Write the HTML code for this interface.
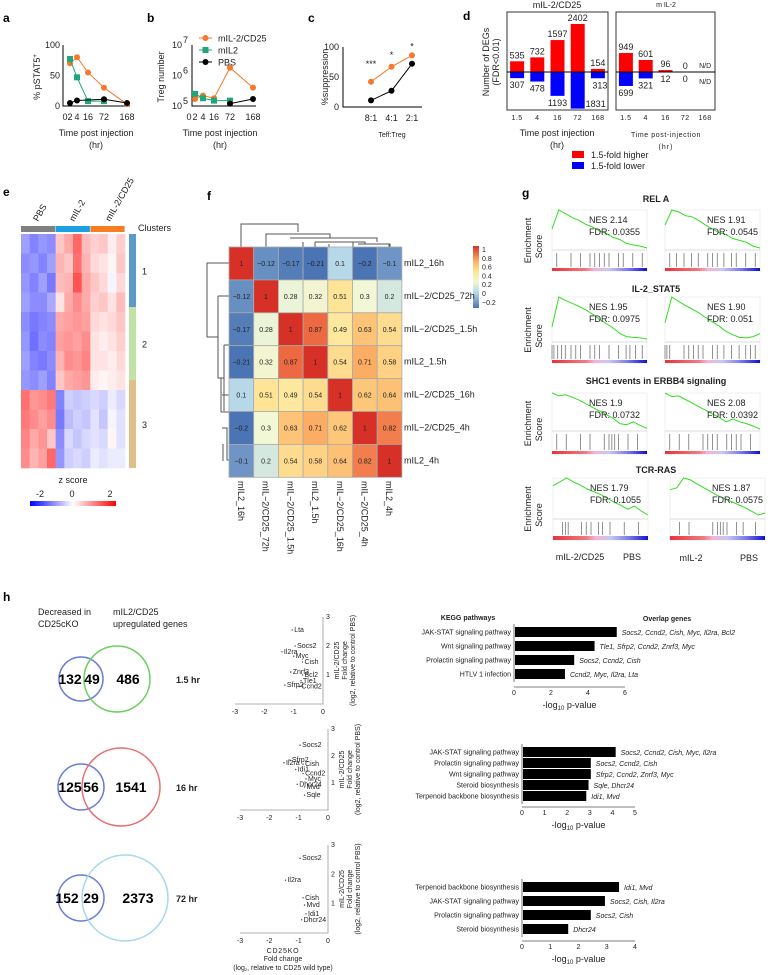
<!DOCTYPE html>
<html><head><meta charset="utf-8">
<style>
html,body{margin:0;padding:0;background:#fff;}
svg{display:block;font-family:"Liberation Sans",sans-serif;}
.t{font-size:9px;fill:#222}
.s{font-size:7px;fill:#222}
.pl{font-size:12px;font-weight:bold;fill:#000}
</style></head>
<body>
<svg id="fig" width="771" height="975" viewBox="0 0 771 975" xmlns="http://www.w3.org/2000/svg">
<!-- panel letters -->
<text class="pl" x="3" y="22">a</text>
<text class="pl" x="147" y="22">b</text>
<text class="pl" x="308" y="22">c</text>
<text class="pl" x="463" y="20">d</text>
<text class="pl" x="3" y="196">e</text>
<text class="pl" x="207" y="200">f</text>
<text class="pl" x="522" y="197">g</text>
<text class="pl" x="3" y="601">h</text>

<!-- panel a static -->
<g>
<text class="t" transform="translate(40,77) rotate(-90)" text-anchor="middle">% pSTAT5<tspan dy="-3" font-size="6">+</tspan></text>
<text class="t" x="96" y="136" text-anchor="middle">Time post injection</text>
<text class="t" x="96" y="148" text-anchor="middle">(hr)</text>
</g>
<g>
<text class="t" transform="translate(164,77) rotate(-90)" text-anchor="middle">Treg number</text>
<text class="t" x="220" y="136" text-anchor="middle">Time post injection</text>
<text class="t" x="220" y="148" text-anchor="middle">(hr)</text>
</g>
<g>
<text class="t" transform="translate(328,77) rotate(-90)" text-anchor="middle">%suppression</text>
<text class="s" x="392" y="137" text-anchor="middle">Teff:Treg</text>
</g>
<g>
<text class="t" transform="translate(489,62) rotate(-90)" text-anchor="middle">Number of DEGs</text>
<text class="t" transform="translate(499,62) rotate(-90)" text-anchor="middle">(FDR&lt;0.01)</text>
<text class="t" x="557" y="8" text-anchor="middle">mIL-2/CD25</text>
<text class="s" x="666" y="7" text-anchor="middle" font-size="5">m IL-2</text>
<text class="t" x="557" y="136" text-anchor="middle">Time post  injection</text>
<text class="t" x="557" y="148" text-anchor="middle">(hr)</text>
<text class="s" x="666" y="137" text-anchor="middle" letter-spacing="0.6">Time post-injection</text>
<text class="s" x="666" y="149" text-anchor="middle" letter-spacing="1">(hr)</text>
<rect x="572" y="151" width="12" height="7" fill="#f00"/>
<text class="t" x="591" y="158">1.5-fold higher</text>
<rect x="572" y="162" width="12" height="7" fill="#00f"/>
<text class="t" x="591" y="169">1.5-fold lower</text>
</g>
<!-- panel e static -->
<g>
<text class="t" transform="translate(38,222) rotate(-60)">PBS</text>
<text class="t" transform="translate(74,222) rotate(-60)">mIL-2</text>
<text class="t" transform="translate(110,222) rotate(-60)">mIL-2/CD25</text>
<text class="t" x="138" y="231">Clusters</text>
<text class="t" x="73" y="483" text-anchor="middle">z score</text>
<defs><linearGradient id="zg" x1="0" x2="1"><stop offset="0" stop-color="#0000ff"/><stop offset="0.5" stop-color="#ffffff"/><stop offset="1" stop-color="#ff0000"/></linearGradient>
<linearGradient id="fg" x1="0" y1="1" x2="0" y2="0"><stop offset="0" stop-color="#4a74b4"/><stop offset="0.25" stop-color="#b7d8e8"/><stop offset="0.42" stop-color="#f2f7d6"/><stop offset="0.58" stop-color="#fee79a"/><stop offset="0.75" stop-color="#fdb165"/><stop offset="1" stop-color="#d73027"/></linearGradient>
<linearGradient id="gg" x1="0" x2="1"><stop offset="0" stop-color="#e8323c"/><stop offset="0.35" stop-color="#f07a80"/><stop offset="0.45" stop-color="#f3b3d8"/><stop offset="0.6" stop-color="#c8c8f0"/><stop offset="0.8" stop-color="#7a7ae8"/><stop offset="1" stop-color="#1010d0"/></linearGradient></defs>
<rect x="30" y="501" width="86" height="5" fill="url(#zg)"/>
<text class="t" x="40" y="497" text-anchor="middle">-2</text>
<text class="t" x="72" y="497" text-anchor="middle">0</text>
<text class="t" x="110" y="497" text-anchor="middle">2</text>
</g>
<!-- panel f static -->
<g stroke="#555" stroke-width="1" fill="none">
<path d="M241 247V224H298V232"/>
<path d="M266 247V234H330V238"/>
<path d="M290 238H377V242M303 242V247M315 242H365V244M358 244H390V247M329 244V247M389 247V244M315 242V247M353 242V247"/>
<path d="M229 263H207V337H218M218 296H229M218 296V378H224M224 345H229M224 345V411M221 378V412M221 412H229"/>
<path d="M222 428H227V460H229M223 444V461M222 395H229"/>
<rect x="473" y="246" width="6" height="62" fill="url(#fg)" stroke="none"/>
</g>
<!-- panel g static -->
<g>
<text class="t" x="656" y="202" text-anchor="middle" font-weight="bold">REL A</text>
<text class="t" x="656" y="292" text-anchor="middle" font-weight="bold">IL-2_STAT5</text>
<text class="t" x="656" y="384" text-anchor="middle" font-weight="bold">SHC1 events in ERBB4 signaling</text>
<text class="t" x="656" y="473" text-anchor="middle" font-weight="bold">TCR-RAS</text>
<text class="t" x="580" y="560" text-anchor="middle">mIL-2/CD25</text>
<text class="t" x="632" y="560" text-anchor="middle">PBS</text>
<text class="t" x="691" y="561" text-anchor="middle">mIL-2</text>
<text class="t" x="749" y="561" text-anchor="middle">PBS</text>
</g>
<!-- panel h static -->
<g>
<text class="t" x="38" y="615">Decreased in</text>
<text class="t" x="38" y="627">CD25cKO</text>
<text class="t" x="113" y="615">mIL2/CD25</text>
<text class="t" x="113" y="627">upregulated genes</text>
<text class="s" x="468" y="620" text-anchor="middle" font-weight="bold">KEGG pathways</text>
<text class="s" x="667" y="621" text-anchor="middle" font-weight="bold">Overlap genes</text>
<text class="s" x="283" y="953" text-anchor="middle" font-size="5" letter-spacing="0.8">CD25KO</text>
<text class="s" x="283" y="961" text-anchor="middle" font-size="5">Fold change</text>
<text class="s" x="283" y="970" text-anchor="middle" font-size="5.5">(log<tspan font-size="4" dy="1">2</tspan><tspan dy="-1">, relative to CD25 wild type)</tspan></text>
</g>
<g id="dyn"></g>
</svg>
<script>
// ---------- data ----------
var aTimes=[2,4,16,72,168];
var aIL2CD25=[70,80,55,30,3];
var aIL2=[77,47,8,8];
var aPBS=[5,9,11,5];
var aPBSTimes=[2,4,72,168];
var timeTicks=[0,2,4,16,72,168];
var bIL2CD25=[1.7e5,2.2e5,1.8e5,1.8e6,4e5];
var bIL2=[2.5e5,1.8e5,1.5e5,1.5e5];
var bPBS=[1.2e5,1.7e5];
var bPBSTimes=[72,168];
var cRatios=["8:1","4:1","2:1"];
var cIL2CD25=[42,67,86];
var cPBS=[11,27,72];
var cStars=["***","*","*"];
var dTimes=["1.5","4","16","72","168"];
var dUpCD25=[535,732,1597,2402,154];
var dDownCD25=[307,478,1193,1831,313];
var dUpIL2=[949,601,96,0];
var dDownIL2=[699,321,12,0];
var eRows=[
[-1.0,-1.3,-1.1,-1.2, 0.6,0.9,1.6,0.7, 0.5,0.6,0.2,0.5],
[-1.2,-1.1,-1.3,-1.0, 0.8,0.6,1.5,0.8, 0.4,0.3,0.1,0.6],
[-1.1,-1.3,-1.0,-1.4, 0.7,0.8,1.8,0.9, 0.6,0.4,-0.1,0.4],
[-1.0,-1.2,-1.2,-0.9, 0.3,0.9,1.2,0.9, 0.5,0.6,0.3,0.7],
[-1.2,-1.4,-1.3,-1.2, 0.9,1.0,1.1,1.0, 0.4,0.3,0.4,0.6],
[-1.1,-1.5,-1.2,-1.3, 1.0,1.1,1.0,1.2, 0.3,0.2,0.3,0.5],
[-1.0,-1.3,-1.4,-1.2, 0.8,1.2,1.1,1.3, 0.3,0.3,0.2,0.4],
[-1.1,-1.2,-1.0,-1.3, 0.6,0.9,1.0,1.1, 0.2,0.1,0.2,0.3],
[ 1.5, 1.1, 1.2, 1.4,-1.3,-0.5,-0.6,-0.5,-0.4,-0.5,-0.2,-0.4],
[ 1.4, 1.2, 1.0, 1.2,-1.4,-0.7,-0.5,-0.6,-0.3,-0.6,-0.1,-0.3],
[ 1.3, 0.9, 1.1, 0.6,-1.2,-0.4,-0.6,-0.4,-0.3,-0.4, 0.1,-0.3],
[ 1.2, 0.8, 1.0, 1.6,-1.1,-0.5,-0.4,-0.5,-0.2,-0.3,-0.2,-0.2]];
var eClusters=["1","2","3"];
var fLabels=["mIL2_16h","mIL−2/CD25_72h","mIL−2/CD25_1.5h","mIL2_1.5h","mIL−2/CD25_16h","mIL−2/CD25_4h","mIL2_4h"];
var fCorr=[
[1,-0.12,-0.17,-0.21,0.1,-0.2,-0.1],
[-0.12,1,0.28,0.32,0.51,0.3,0.2],
[-0.17,0.28,1,0.87,0.49,0.63,0.54],
[-0.21,0.32,0.87,1,0.54,0.71,0.58],
[0.1,0.51,0.49,0.54,1,0.62,0.64],
[-0.2,0.3,0.63,0.71,0.62,1,0.82],
[-0.1,0.2,0.54,0.58,0.64,0.82,1]];
var fTicks=["1","0.8","0.6","0.4","0.2","0","−0.2"];
var gNES=["NES 2.14","NES 1.91","NES 1.95","NES 1.90","NES 1.9","NES 2.08","NES 1.79","NES 1.87"];
var gFDR=["FDR: 0.0355","FDR: 0.0545","FDR: 0.0975","FDR: 0.051","FDR: 0.0732","FDR: 0.0392","FDR: 0.1055","FDR: 0.0575"];
var gCurves=[
[0.5,1.0,0.9,0.8,0.72,0.62,0.55,0.45,0.38,0.28,0.22,0.12,0.08,0.05,0.0],
[0.6,1.0,0.95,0.85,0.82,0.72,0.6,0.5,0.4,0.35,0.25,0.2,0.15,0.05,0.0],
[0.3,1.0,0.92,0.85,0.78,0.7,0.6,0.48,0.38,0.28,0.15,0.08,0.06,0.05,0.02],
[0.4,1.0,0.9,0.8,0.72,0.63,0.52,0.42,0.32,0.2,0.12,0.06,0.05,0.08,0.15],
[1.0,0.92,0.95,0.88,0.8,0.7,0.6,0.5,0.4,0.3,0.15,0.12,0.2,0.1,0.02],
[1.0,0.9,0.92,0.82,0.72,0.62,0.52,0.42,0.32,0.2,0.28,0.2,0.15,0.08,0.0],
[0.8,0.9,1.0,0.9,0.82,0.72,0.65,0.58,0.48,0.38,0.3,0.2,0.28,0.15,0.05],
[0.7,0.75,1.0,0.95,0.85,0.75,0.65,0.55,0.48,0.4,0.32,0.25,0.15,0.05,0.1]];
var gHits=[
[0.05,0.2,0.3,0.4,0.45,0.5,0.55,0.6,0.7,0.75,0.85,0.95],
[0.05,0.12,0.2,0.28,0.35,0.45,0.5,0.55,0.62,0.7,0.75,0.85,0.95],
[0.0,0.02,0.06,0.1,0.14,0.2,0.25,0.3,0.4,0.45,0.5,0.6,0.7,0.78,0.82,0.88,0.95],
[0.0,0.02,0.05,0.2,0.25,0.3,0.35,0.4,0.5,0.55,0.62,0.7,0.78,0.85,0.9,0.95],
[0.05,0.15,0.3,0.4,0.55,0.6,0.63,0.66,0.7,0.8,0.9],
[0.05,0.15,0.25,0.4,0.45,0.5,0.55,0.65,0.7,0.75,0.8,0.9],
[0.1,0.13,0.16,0.3,0.35,0.4,0.48,0.52,0.6,0.75,0.9],
[0.1,0.2,0.45,0.5,0.53,0.56,0.6,0.7,0.77,0.9]];
var hOverlap=[49,56,29];
var hLeftOnly=[132,125,152];
var hRightOnly=[486,1541,2373];
var hTimes=["1.5 hr","16 hr","72 hr"];
var sc1Genes=["Lta","Socs2","Il2ra","Myc","Cish","Znrf3","Bcl2","Tle1","Sfrp2","Ccnd2"];
var sc1X=[-1.05,-0.95,-1.4,-1.0,-0.7,-1.1,-0.7,-0.75,-1.3,-0.8];
var sc1Y=[2.55,2.0,1.8,1.65,1.45,1.1,1.0,0.8,0.65,0.6];
var sc2Genes=["Socs2","Sfrp2","Il2ra","Cish","Idi1","Ccnd2","Myc","Dhcr24","Mvd","Sqle"];
var sc2X=[-0.95,-1.3,-1.5,-0.85,-1.1,-0.85,-0.75,-1.05,-0.8,-0.8];
var sc2Y=[2.4,1.85,1.75,1.7,1.5,1.35,1.15,0.95,0.85,0.55];
var sc3Genes=["Socs2","Il2ra","Cish","Mvd","Idi1","Dhcr24"];
var sc3X=[-0.95,-1.45,-0.85,-0.8,-0.75,-0.9];
var sc3Y=[2.55,1.8,1.2,0.95,0.65,0.45];
var k1Paths=["JAK-STAT signaling pathway","Wnt signaling pathway","Prolactin signaling pathway","HTLV 1 infection"];
var k1Vals=[5.5,4.3,3.2,2.7];
var k1Genes=["Socs2, Ccnd2, Cish, Myc, Il2ra, Bcl2","Tle1, Sfrp2, Ccnd2, Znrf3, Myc","Socs2, Ccnd2, Cish","Ccnd2, Myc, Il2ra, Lta"];
var k1Ticks=[0,2,4,6];
var k2Paths=["JAK-STAT signaling pathway","Prolactin signaling pathway","Wnt signaling pathway","Steroid biosynthesis","Terpenoid backbone biosynthesis"];
var k2Vals=[4.1,3.0,3.0,2.9,2.8];
var k2Genes=["Socs2, Ccnd2, Cish, Myc, Il2ra","Socs2, Ccnd2, Cish","Sfrp2, Ccnd2, Znrf3, Myc","Sqle, Dhcr24","Idi1, Mvd"];
var k2Ticks=[0,1,2,3,4,5];
var k3Paths=["Terpenoid backbone biosynthesis","JAK-STAT signaling pathway","Prolactin signaling pathway","Steroid biosynthesis"];
var k3Vals=[3.4,2.9,2.4,1.6];
var k3Genes=["Idi1, Mvd","Socs2, Cish, Il2ra","Socs2, Cish","Dhcr24"];
var k3Ticks=[0,1,2,3,4];

// ---------- helpers ----------
var NS="http://www.w3.org/2000/svg";
var root=document.getElementById('dyn');
function mk(tag,a,txt){var e=document.createElementNS(NS,tag);for(var k in a)e.setAttribute(k,a[k]);if(txt!==undefined)e.textContent=txt;root.appendChild(e);return e;}
function lin(d0,d1,r0,r1){return function(v){return r0+(v-d0)/(d1-d0)*(r1-r0);};}
function piece(ds,rs){return function(v){for(var i=0;i<ds.length-1;i++){if(v<=ds[i+1])return rs[i]+(v-ds[i])/(ds[i+1]-ds[i])*(rs[i+1]-rs[i]);}return rs[rs.length-1];};}
var el;

// ---------- panel a ----------
var axA=piece(timeTicks,[65,70,77,88,104,127]);
var ayA=lin(0,100,106,45);
el=mk('path',{d:'M63 45V106H130',stroke:'#000',fill:'none','stroke-width':1});


[0,50,100].forEach(function(v){
el=mk('text',{class:'t',x:60,y:ayA(v)+3,'text-anchor':'end','font-size':10},String(v));

});
timeTicks.forEach(function(v){
el=mk('text',{class:'t',x:axA(v),y:120,'text-anchor':'middle','font-size':9.5},String(v));

});
function series(xs,ys,xf,yf,col,shape,name){
var d=xs.map(function(x,i){return (i?'L':'M')+xf(x)+' '+yf(ys[i]);}).join('');
el=mk('path',{d:d,stroke:col,fill:'none','stroke-width':1});


xs.forEach(function(x,i){
if(shape==='sq'){el=mk('rect',{x:xf(x)-3,y:yf(ys[i])-3,width:6,height:6,fill:col});}
else{el=mk('circle',{cx:xf(x),cy:yf(ys[i]),r:3,fill:col});}

});}
series(aTimes,aIL2CD25,axA,ayA,'#f7782d','c','a-mil2cd25');
series(aTimes.slice(0,4),aIL2,axA,ayA,'#1fa77a','sq','a-mil2');
series(aPBSTimes,aPBS,axA,ayA,'#000','c','a-pbs');

// ---------- panel b ----------
var axB=piece(timeTicks,[189,195,203,214,230,253]);
var ayB=function(v){return lin(5,7,106,45)(Math.log10(v));};
el=mk('path',{d:'M192 45V106H256',stroke:'#000',fill:'none'});


[5,6,7].forEach(function(p){
el=mk('text',{class:'t',x:182,y:ayB(Math.pow(10,p))+3,'text-anchor':'end','font-size':10},'10');


el=mk('text',{class:'t',x:183,y:ayB(Math.pow(10,p))-2,'font-size':7},String(p));

});
timeTicks.forEach(function(v){
el=mk('text',{class:'t',x:axB(v),y:120,'text-anchor':'middle','font-size':9.5},String(v));

});
series(aTimes,bIL2CD25,axB,ayB,'#f7782d','c','b-mil2cd25');
series(aTimes.slice(0,4),bIL2,axB,ayB,'#1fa77a','sq','b-mil2');
series(bPBSTimes,bPBS,axB,ayB,'#000','c','b-pbs');
var legN=['mIL-2/CD25','mIL2','PBS'],legC=['#f7782d','#1fa77a','#000'],legS=['c','sq','c'];
legN.forEach(function(n,i){var y=38+i*12;
el=mk('line',{x1:199,x2:212,y1:y,y2:y,stroke:legC[i]});


if(legS[i]==='sq')el=mk('rect',{x:202.5,y:y-3,width:6,height:6,fill:legC[i]});else el=mk('circle',{cx:205.5,cy:y,r:3,fill:legC[i]});


el=mk('text',{class:'t',x:218,y:y+3.5,'font-size':10},n);

});

// ---------- panel c ----------
var axC=function(i){return 371+i*20.5;};
var ayC=lin(0,100,107,47);
el=mk('path',{d:'M343 47V107H422',stroke:'#000',fill:'none'});


[0,50,100].forEach(function(v){
el=mk('text',{class:'t',x:339,y:ayC(v)+3,'text-anchor':'end','font-size':10},String(v));

});
cRatios.forEach(function(r,i){
el=mk('text',{class:'t',x:axC(i),y:121,'text-anchor':'middle','font-size':9.5},r);


el=mk('text',{class:'t',x:axC(i),y:ayC(Math.max(cIL2CD25[i],cPBS[i]))-(i===0?15:i===1?9:6),'text-anchor':'middle'},cStars[i]);

});
var ci=[0,1,2];
series(ci,cIL2CD25,axC,ayC,'#f7782d','c','c-mil2cd25');
series(ci,cPBS,axC,ayC,'#000','c','c-pbs');

// ---------- panel d ----------
var dy=function(v){return v*0.02;};
var base=72;
function dBox(x0,x1,up,down,name,bigLabels){
el=mk('rect',{x:x0,y:12,width:x1-x0,height:98,fill:'none',stroke:'#333'});


var step=(x1-x0)/5;
dTimes.forEach(function(t,i){var cx=x0+step*(i+0.5);
el=mk('text',{class:'s',x:cx,y:120,'text-anchor':'middle','letter-spacing':'0.5'},t);


if(i<up.length){
el=mk('rect',{x:cx-7,y:base-dy(up[i]),width:14,height:dy(up[i]),fill:'#f00'});


el=mk('rect',{x:cx-7,y:base,width:14,height:dy(down[i]),fill:'#00f'});


el=mk('text',{class:'t',x:cx,y:base-dy(up[i])-3,'text-anchor':'middle','font-size':bigLabels?9:8.5},String(up[i]));


var ly=Math.min(base+dy(down[i])+10,107);
if(i===3&&bigLabels){ly=107;}
el=mk('text',{class:'t',x:(bigLabels&&i===3)?cx+18:(bigLabels&&i===4?cx+2:cx),y:ly,'text-anchor':'middle','font-size':bigLabels?9:6},String(down[i]));

}
else{
el=mk('text',{class:'s',x:cx,y:68,'text-anchor':'middle'},'N/D');


el=mk('text',{class:'s',x:cx,y:84,'text-anchor':'middle'},'N/D');

}});
el=mk('line',{x1:x0,x2:x1,y1:base,y2:base,stroke:'#000'});

}
dBox(507,608,dUpCD25,dDownCD25,'d-mil2cd25',true);
dBox(616,715,dUpIL2,dDownIL2,'d-mil2',false);

// ---------- panel e ----------
var groupCols=['#808080','#1ba1e2','#fb7d22'];
groupCols.forEach(function(c,i){
el=mk('rect',{x:21+i*34.7,y:226,width:34.2,height:6,fill:c});

});
function zcol(v){var t=Math.max(-1,Math.min(1,v/2));var r,g,b;
if(t<0){r=255*(1+t);g=255*(1+t);b=255;}else{r=255;g=255*(1-t);b=255*(1-t);}
return 'rgb('+Math.round(r)+','+Math.round(g)+','+Math.round(b)+')';}
var eRowH=234/eRows.length, eColW=104/12;
eRows.forEach(function(row,r){row.forEach(function(v,c){
el=mk('rect',{x:21+c*eColW,y:234+r*eRowH,width:eColW+0.3,height:eRowH+0.3,fill:zcol(v*0.75)});

});});
var cCols=['#5b9bc8','#c3e2a8','#dfc08b'];
var cY=[234,307,380,468];
eClusters.forEach(function(n,i){
el=mk('rect',{x:129,y:cY[i],width:7,height:cY[i+1]-cY[i],fill:cCols[i]});


el=mk('text',{class:'t',x:142,y:(cY[i]+cY[i+1])/2+4},n);

});

// ---------- panel f ----------
var fStops=[[-0.2,[74,116,180]],[0.1,[183,216,232]],[0.3,[242,247,214]],[0.5,[254,231,154]],[0.7,[253,177,101]],[0.87,[236,105,65]],[1,[215,48,39]]];
function fcol(v){for(var i=0;i<fStops.length-1;i++){var a=fStops[i],b=fStops[i+1];if(v<=b[0]){var t=(v-a[0])/(b[0]-a[0]);t=Math.max(0,t);
return 'rgb('+a[1].map(function(c,j){return Math.round(c+(b[1][j]-c)*t);}).join(',')+')';}}return 'rgb(215,48,39)';}
var fx=function(i){return 229+i*24.7;}, fyy=function(i){return 247+i*32.9;};
fCorr.forEach(function(row,r){row.forEach(function(v,c){
el=mk('rect',{x:fx(c),y:fyy(r),width:24.7,height:32.9,fill:fcol(v),stroke:'#aaa','stroke-width':0.8});


el=mk('text',{class:'s',x:fx(c)+12.3,y:fyy(r)+19,'text-anchor':'middle','font-size':6,fill:'#333'},String(v).replace('-','−'));

});});
fLabels.forEach(function(l,i){
el=mk('text',{class:'t',x:404,y:fyy(i)+19,'font-size':7.5},l);


el=mk('text',{class:'t',transform:'translate('+(fx(i)+9)+',481) rotate(90)','font-size':7.5},l);

});
fTicks.forEach(function(t,i){
el=mk('text',{class:'s',x:482,y:250+i*8.8+2,'font-size':5.5},t);

});

// ---------- panel g ----------
var gRows=[{t:210,z:250,h1:268,b:271},{t:297,z:342,h1:360,b:363},{t:393,z:431,h1:451,b:454},{t:478,z:519,h1:536,b:540}];
var gX=[552,665];
gCurves.forEach(function(cv,k){var row=gRows[Math.floor(k/2)],x0=gX[k%2]+(k>=6?(k%2?5:1):0),w=95;
var gx=lin(0,cv.length-1,x0,x0+w), gy=lin(0,1,row.z-2,row.t);
el=mk('rect',{x:x0,y:row.t,width:w,height:row.b-row.t,fill:'#fff',stroke:'#e4e4e4','stroke-width':0.6});


el=mk('line',{x1:x0,x2:x0+w,y1:row.z,y2:row.z,stroke:'#bbb','stroke-width':0.6});


var d=cv.map(function(v,i){return (i?'L':'M')+gx(i).toFixed(1)+' '+gy(v).toFixed(1);}).join('');
el=mk('path',{d:d,stroke:'#33dd22',fill:'none','stroke-width':1});


gHits[k].forEach(function(h){
el=mk('line',{x1:x0+h*w,x2:x0+h*w,y1:row.z+3,y2:row.h1-1,stroke:'#777','stroke-width':0.8});

});
el=mk('rect',{x:x0,y:row.h1,width:w,height:row.b-row.h1,fill:'url(#gg)'});


el=mk('text',{class:'t',x:x0+(k%2?42:37),y:row.t+13,'font-size':9.5},gNES[k]);


el=mk('text',{class:'t',x:x0+(k%2?42:37),y:row.t+25,'font-size':9.5},gFDR[k]);


if(k%2===0){
el=mk('text',{class:'t',transform:'translate(531,'+((row.t+row.b)/2)+') rotate(-90)','text-anchor':'middle'},'Enrichment');


el=mk('text',{class:'t',transform:'translate(542,'+((row.t+row.b)/2+6)+') rotate(-90)','text-anchor':'middle'},'Score');

}});

// ---------- panel h venns ----------
var venn=[{y:679,lr:22,rx:117,rr:33,col:'#6bd05f',lx:[70,92,128]},{y:787,lr:23,rx:121,rr:39,col:'#e86d6d',lx:[70,91,131]},{y:898,lr:23,rx:125,rr:43,col:'#a6d8ee',lx:[67,91,138]}];
venn.forEach(function(v,i){
el=mk('circle',{cx:81,cy:v.y,r:v.lr,fill:'none',stroke:'#6a7fd8','stroke-width':1.5});


el=mk('circle',{cx:v.rx,cy:v.y,r:v.rr,fill:'none',stroke:v.col,'stroke-width':1.5});


[hLeftOnly[i],hOverlap[i],hRightOnly[i]].forEach(function(n,j){
el=mk('text',{x:v.lx[j],y:v.y+5,'text-anchor':'middle','font-size':14,'font-weight':'bold',fill:'#000'},String(n));

});
el=mk('text',{class:'t',x:176,y:v.y+4,'font-weight':'bold','font-size':9},hTimes[i]);

});

// ---------- scatter ----------
function scatter(ax,y0,y3,xg,yg,genes,name){
var sx=lin(-3,0,ax-88,ax), sy=lin(0,3,y0,y3);
el=mk('path',{d:'M'+ax+' '+y3+'V'+y0+'H'+sx(-3),stroke:'#999',fill:'none','stroke-width':0.8});


[-3,-2,-1,0].forEach(function(t){
el=mk('text',{class:'s',x:sx(t),y:y0+10,'text-anchor':'middle','font-size':6},String(t));

});
[1,2,3].forEach(function(t){
el=mk('text',{class:'s',x:ax+3,y:sy(t)+2,'font-size':6},String(t));

});
xg.forEach(function(x,i){
el=mk('circle',{cx:sx(x),cy:sy(yg[i]),r:0.7,fill:'#444'});


el=mk('text',{class:'s',x:sx(x)+2,y:sy(yg[i])+2,'font-size':6.5},genes[i]);

});
el=mk('text',{class:'s',transform:'translate('+(ax+16)+','+((y0+y3)/2)+') rotate(-90)','text-anchor':'middle','font-size':6},'mIL-2/CD25');


el=mk('text',{class:'s',transform:'translate('+(ax+24)+','+((y0+y3)/2)+') rotate(-90)','text-anchor':'middle','font-size':6},'Fold change');


el=mk('text',{class:'s',transform:'translate('+(ax+32)+','+((y0+y3)/2)+') rotate(-90)','text-anchor':'middle','font-size':6},'(log2, relative to control PBS)');

}
scatter(323,704,617,sc1X,sc1Y,sc1Genes,'scatter-1-5h');
scatter(328,810,729,sc2X,sc2Y,sc2Genes,'scatter-16h');
scatter(328,933,845,sc3X,sc3Y,sc3Genes,'scatter-72h');

// ---------- KEGG bars ----------
function kegg(ax,ys,unit,paths,vals,genes,ticks,tickY,name){
var sx=function(v){return ax+v*unit;};
el=mk('line',{x1:ax,x2:ax,y1:ys[0]-8,y2:ys[ys.length-1]+8,stroke:'#555','stroke-width':0.8});


el=mk('line',{x1:ax,x2:sx(ticks[ticks.length-1]),y1:tickY-8,y2:tickY-8,stroke:'#555','stroke-width':0.8});


ticks.forEach(function(t){
el=mk('text',{class:'s',x:sx(t),y:tickY,'text-anchor':'middle','font-size':6.5},String(t));

});
el=mk('text',{class:'t',x:sx(ticks[ticks.length-1]/2),y:tickY+13,'text-anchor':'middle'},'-log');


var tl=el.getComputedTextLength?0:0;
el.textContent='';
var s1=document.createElementNS(NS,'tspan');s1.textContent='-log';el.appendChild(s1);
var s2=document.createElementNS(NS,'tspan');s2.setAttribute('font-size','6');s2.setAttribute('dy','2');s2.textContent='10';el.appendChild(s2);
var s3=document.createElementNS(NS,'tspan');s3.setAttribute('dy','-2');s3.textContent=' p-value';el.appendChild(s3);
paths.forEach(function(p,i){
el=mk('rect',{x:ax+1,y:ys[i]-5,width:vals[i]*unit,height:10,fill:'#000'});


el=mk('text',{class:'s',x:ax-3,y:ys[i]+2.5,'text-anchor':'end','font-size':7},p);


el=mk('text',{class:'s',x:sx(vals[i])+6,y:ys[i]+3,'font-style':'italic','font-size':7},genes[i]);

});}
kegg(514,[632,646,660,674],18.5,k1Paths,k1Vals,k1Genes,k1Ticks,695,'kegg-1-5h');
kegg(522,[752,763,774,785,796],22.6,k2Paths,k2Vals,k2Genes,k2Ticks,815,'kegg-16h');
kegg(522,[887,901,915,929],28.25,k3Paths,k3Vals,k3Genes,k3Ticks,949,'kegg-72h');
</script>
</body></html>
